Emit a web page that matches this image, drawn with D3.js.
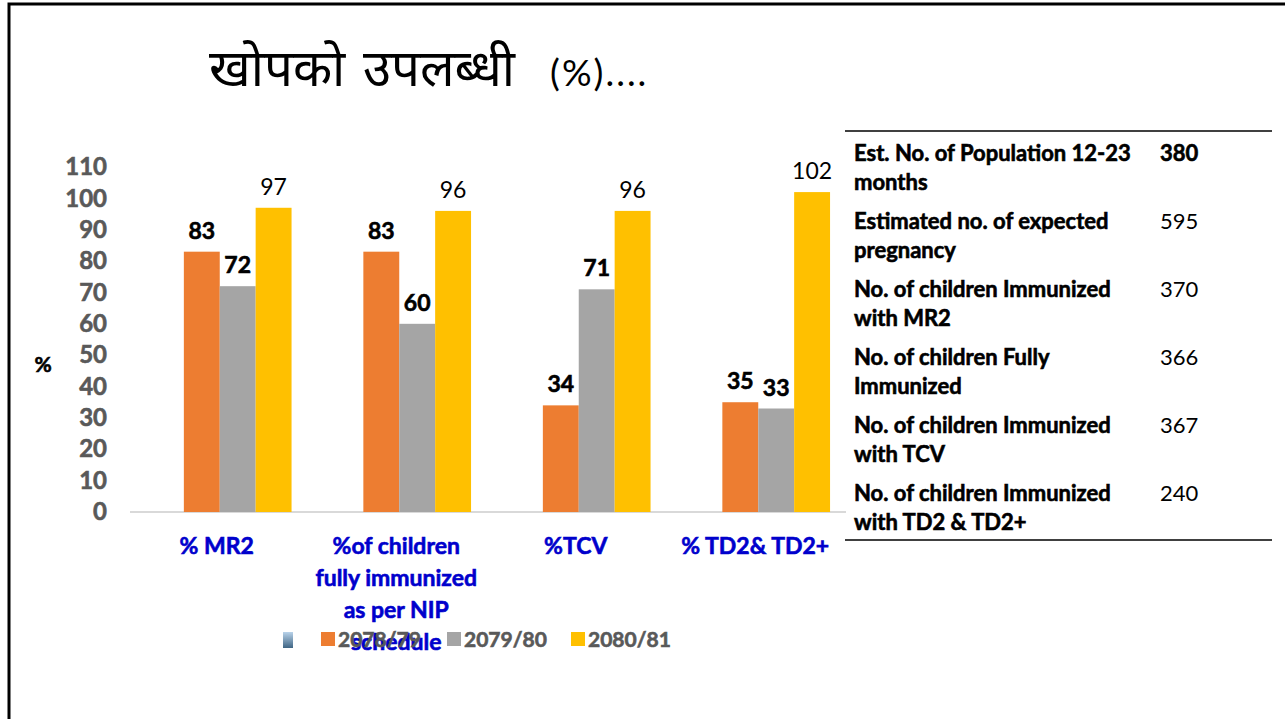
<!DOCTYPE html>
<html>
<head>
<meta charset="utf-8">
<script src="https://cdn.jsdelivr.net/npm/d3@7"></script>
<style>
  body { margin: 0; background: #fff; }
  svg { display: block; font-family: Lato, "Open Sans", sans-serif; }
  .heavy { stroke-width: 0.6px; paint-order: stroke; }
</style>
</head>
<body>
<svg id="chart" width="1285" height="719">
  <defs>
    <linearGradient id="blankIcon" x1="0" y1="0" x2="0" y2="1">
      <stop offset="0" stop-color="#b9d3ea"/>
      <stop offset="1" stop-color="#3f6584"/>
    </linearGradient>
  </defs>
</svg>
<script>
// chart data
var categories = ["% MR2", "%of children fully immunized as per NIP schedule", "%TCV", "% TD2& TD2+"];
var seriesNames = ["", "2078/79", "2079/80", "2080/81"];   // first one is an empty series in the source
var values = {
  "": [null, null, null, null],
  "2078/79": [83, 83, 34, 35],
  "2079/80": [72, 60, 71, 33],
  "2080/81": [97, 96, 96, 102]
};
var yTicks = [0, 10, 20, 30, 40, 50, 60, 70, 80, 90, 100, 110];

// side table
var tableRows = [
  ["Est. No. of Population 12-23", "months"],
  ["Estimated no. of expected", "pregnancy"],
  ["No. of children Immunized", "with MR2"],
  ["No. of children Fully", "Immunized"],
  ["No. of children Immunized", "with TCV"],
  ["No. of children Immunized", "with TD2 & TD2+"]
];
var tableValues = ["380", "595", "370", "366", "367", "240"];

var colors = {"": "url(#blankIcon)", "2078/79": "#ED7D31", "2079/80": "#A5A5A5", "2080/81": "#FFC000"};
var labelWeight = {"2078/79": "bold", "2079/80": "bold", "2080/81": "normal"};

var svg = d3.select("#chart");

// frame
svg.append("path")
  .attr("d", "M9,719 V4 H1285")
  .attr("fill", "none").attr("stroke", "#000").attr("stroke-width", 3);

// title
var titleFont = "'Noto Sans Devanagari', 'Noto Sans', sans-serif";
svg.append("text").attr("x", 209).attr("y", 86).attr("font-size", 51)
  .attr("font-family", titleFont).text("खोपको");
svg.append("text").attr("x", 363).attr("y", 86).attr("font-size", 51)
  .attr("font-family", titleFont).text("उपलब्धी");
svg.append("text").attr("x", 550).attr("y", 86).attr("font-size", 37)
  .attr("letter-spacing", 2).text("(%)....");

var x0 = d3.scaleBand().domain(categories).range([130, 848]).paddingInner(0.2).paddingOuter(0.1);
var x1 = d3.scaleBand().domain(seriesNames).range([0, x0.bandwidth()]);
var y = d3.scaleLinear().domain([0, 110]).range([512, 167]);

// y axis labels only
var yAxis = d3.axisLeft(y).tickValues(yTicks).tickSize(0).tickPadding(0);
var gy = svg.append("g").attr("transform", "translate(107,0)").call(yAxis);
gy.select(".domain").remove();
gy.selectAll("text").attr("font-size", 24).attr("font-weight", "bold")
  .attr("fill", "#595959").attr("stroke", "#595959").attr("class", "heavy")
  .attr("font-family", "Lato, sans-serif");

svg.append("text").attr("x", 43).attr("y", 372).attr("text-anchor", "middle")
  .attr("font-size", 21).attr("font-weight", "bold").attr("class", "heavy")
  .attr("stroke", "#000").text("%");

// baseline
svg.append("line").attr("x1", 130).attr("x2", 846).attr("y1", y(0)).attr("y2", y(0))
  .attr("stroke", "#d9d9d9").attr("stroke-width", 2);

// bars
var groups = svg.append("g").selectAll("g").data(categories).join("g")
  .attr("transform", function(d) { return "translate(" + x0(d) + ",0)"; });

function groupData(c, ci) {
  return seriesNames.filter(function(s) { return values[s][ci] != null; })
    .map(function(s) { return {s: s, v: values[s][ci]}; });
}

groups.selectAll("rect").data(groupData).join("rect")
  .attr("x", function(d) { return x1(d.s); })
  .attr("width", x1.bandwidth())
  .attr("y", function(d) { return y(d.v); })
  .attr("height", function(d) { return y(0) - y(d.v); })
  .attr("fill", function(d) { return colors[d.s]; });

groups.selectAll("text.val").data(groupData).join("text")
  .attr("class", function(d) { return labelWeight[d.s] === "bold" ? "val heavy" : "val"; })
  .attr("x", function(d) { return x1(d.s) + x1.bandwidth() / 2; })
  .attr("y", function(d) { return y(d.v) - 13; })
  .attr("text-anchor", "middle")
  .attr("font-size", 23)
  .attr("font-weight", function(d) { return labelWeight[d.s]; })
  .attr("fill", "#000").attr("stroke", "#000")
  .attr("stroke-width", function(d) { return labelWeight[d.s] === "bold" ? 0.6 : 0; })
  .text(function(d) { return d.v; });

// category labels, wrapped
function wrap(textSel, width) {
  textSel.each(function() {
    var t = d3.select(this), words = t.text().split(/\s+/), line = [];
    var xx = t.attr("x");
    t.text(null);
    var ts = t.append("tspan").attr("x", xx).attr("dy", 0);
    words.forEach(function(w) {
      line.push(w);
      ts.text(line.join(" "));
      if (ts.node().getComputedTextLength() > width && line.length > 1) {
        line.pop();
        ts.text(line.join(" "));
        line = [w];
        ts = t.append("tspan").attr("x", xx).attr("dy", 32).text(w);
      }
    });
  });
}

svg.append("g").selectAll("text").data(categories).join("text")
  .attr("x", function(d) { return x0(d) + x0.bandwidth() / 2 - 3; })
  .attr("y", 554)
  .attr("text-anchor", "middle")
  .attr("font-size", 23).attr("font-weight", "bold")
  .attr("fill", "#0000CC").attr("stroke", "#0000CC").attr("class", "heavy")
  .text(function(d) { return d; })
  .call(wrap, 168);

// legend
var legendX = {"": 283, "2078/79": 321, "2079/80": 447, "2080/81": 571};
var leg = svg.append("g").selectAll("g").data(seriesNames).join("g")
  .attr("transform", function(d) { return "translate(" + legendX[d] + ",632)"; });
leg.append("rect")
  .attr("width", function(d) { return d === "" ? 10 : 14; })
  .attr("height", function(d) { return d === "" ? 16 : 14; })
  .attr("fill", function(d) { return colors[d]; });
leg.append("text").attr("x", 17).attr("y", 15)
  .attr("font-size", 21).attr("font-weight", "bold")
  .attr("fill", "#595959").attr("stroke", "#595959").attr("class", "heavy")
  .text(function(d) { return d; });

// side table
svg.append("line").attr("x1", 845).attr("x2", 1272).attr("y1", 131).attr("y2", 131)
  .attr("stroke", "#404040").attr("stroke-width", 2);
svg.append("line").attr("x1", 845).attr("x2", 1272).attr("y1", 540).attr("y2", 540)
  .attr("stroke", "#404040").attr("stroke-width", 2);

var rows = svg.append("g").selectAll("g").data(tableRows).join("g")
  .attr("transform", function(d, i) { return "translate(0," + (161 + i * 68) + ")"; });
rows.append("text").attr("x", 854).attr("y", 0)
  .attr("font-size", 22).attr("font-weight", "bold")
  .attr("fill", "#000").attr("stroke", "#000").attr("class", "heavy")
  .selectAll("tspan").data(function(d) { return d; }).join("tspan")
  .attr("x", 854).attr("dy", function(d, i) { return i ? 28.5 : 0; })
  .text(function(d) { return d; });
rows.append("text").attr("x", 1160).attr("y", 0)
  .attr("font-size", 22).attr("fill", "#000").attr("stroke", "#000")
  .attr("stroke-width", function(d, i) { return i === 0 ? 0.6 : 0; })
  .attr("font-weight", function(d, i) { return i === 0 ? "bold" : "normal"; })
  .text(function(d, i) { return tableValues[i]; });
</script>
</body>
</html>
